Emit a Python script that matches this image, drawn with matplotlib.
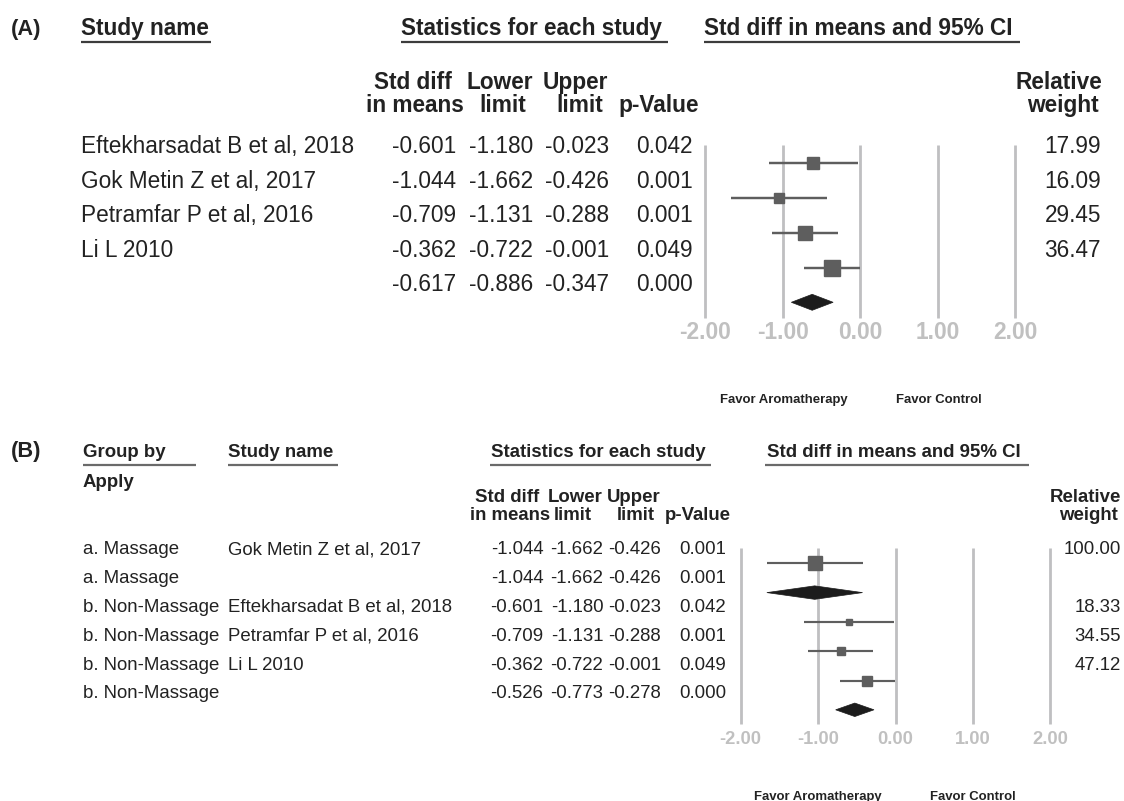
import matplotlib
matplotlib.use("Agg")
import matplotlib.pyplot as plt
from matplotlib.patches import Polygon
import numpy as np

plt.rcParams['font.family'] = ['Liberation Sans', 'DejaVu Sans']

# ---------------- data ----------------
# Panel A: individual studies + pooled estimate (last row)
studies_a = ["Eftekharsadat B et al, 2018", "Gok Metin Z et al, 2017",
             "Petramfar P et al, 2016", "Li L 2010", ""]
smd_a = [-0.601, -1.044, -0.709, -0.362, -0.617]
lower_a = [-1.180, -1.662, -1.131, -0.722, -0.886]
upper_a = [-0.023, -0.426, -0.288, -0.001, -0.347]
pval_a = [0.042, 0.001, 0.001, 0.049, 0.000]
weight_a = [17.99, 16.09, 29.45, 36.47, None]
pooled_a = [False, False, False, False, True]

# Panel B: subgroup analysis by application method
group_b = ["a. Massage", "a. Massage", "b. Non-Massage", "b. Non-Massage",
           "b. Non-Massage", "b. Non-Massage"]
studies_b = ["Gok Metin Z et al, 2017", "", "Eftekharsadat B et al, 2018",
             "Petramfar P et al, 2016", "Li L 2010", ""]
smd_b = [-1.044, -1.044, -0.601, -0.709, -0.362, -0.526]
lower_b = [-1.662, -1.662, -1.180, -1.131, -0.722, -0.773]
upper_b = [-0.426, -0.426, -0.023, -0.288, -0.001, -0.278]
pval_b = [0.001, 0.001, 0.042, 0.001, 0.049, 0.000]
weight_b = [100.00, None, 18.33, 34.55, 47.12, None]
pooled_b = [False, True, False, False, False, True]

axis_ticks = [-2.0, -1.0, 0.0, 1.0, 2.0]
favor_left, favor_right = "Favor Aromatherapy", "Favor Control"

# ---------------- styling ----------------
W, H, DPI = 1124, 801, 100
TXT = "#222222"
CI_COL = "#5e5e5e"
DIA_COL = "#1c1c1c"
GRID_COL = "#bfbfc1"
TICK_COL = "#c0c0c0"

fig = plt.figure(figsize=(W / DPI, H / DPI), dpi=DPI)
fig.patch.set_facecolor("white")

# overlay in pixel coordinates for the table text
tx = fig.add_axes([0, 0, 1, 1])
tx.set_xlim(0, W)
tx.set_ylim(H, 0)
tx.axis("off")


def pt(px):
    return px * 72.0 / DPI


def put(x, yc, s, px, ha="left", bold=False, color=TXT):
    # yc is the visual centre of digits/capitals; place on the baseline
    tx.text(x, yc + 0.36 * px, s, fontsize=pt(px), ha=ha, va="baseline",
            fontweight="bold" if bold else "normal", color=color)


def underline(x0, x1, y, color, lw=1.6):
    tx.plot([x0, x1], [y, y], color=color, lw=lw, solid_capstyle="butt")


def forest(ax_rect, est, lo, hi, weights, pooled, size_k, ci_lw, tick_px,
           grid_rows, tick_row, ylim):
    ax = fig.add_axes(ax_rect)
    ax.set_xlim(-2.25, 2.25)
    ax.set_ylim(*ylim)
    ax.axis("off")
    ax.vlines(axis_ticks, grid_rows[0], grid_rows[1], color=GRID_COL,
              lw=2.0, zorder=1)
    for i, (e, l, h, w, pl) in enumerate(zip(est, lo, hi, weights, pooled)):
        if pl:
            hh = 0.23
            ax.add_patch(Polygon([[l, i], [e, i - hh], [h, i], [e, i + hh]],
                                 closed=True, facecolor=DIA_COL,
                                 edgecolor=DIA_COL, lw=0.5, zorder=3))
        else:
            ax.plot([l, h], [i, i], color=CI_COL, lw=ci_lw, zorder=2,
                    solid_capstyle="butt")
            ax.plot([e], [i], marker="s", color=CI_COL, mec=CI_COL,
                    ms=pt(size_k * np.sqrt(w)), zorder=3)
    for t in axis_ticks:
        ax.text(t, tick_row, f"{t:.2f}", ha="center", va="center",
                fontsize=pt(tick_px), fontweight="bold", color=TICK_COL)
    return ax


# ================= Panel A =================
FA = 22.6
put(11, 27, "(A)", 21.8, bold=True)
put(81, 27, "Study name", FA, bold=True)
underline(81, 211, 42, "#3c3c3c")
put(401, 27, "Statistics for each study", FA, bold=True)
underline(401, 667.5, 42, "#3c3c3c")
put(704, 27, "Std diff in means and 95% CI", FA, bold=True)
underline(704, 1020, 42, "#3c3c3c")

put(413, 81, "Std diff", FA, ha="center", bold=True)
put(415, 103.5, "in means", FA, ha="center", bold=True)
put(499.5, 81, "Lower", FA, ha="center", bold=True)
put(502.5, 103.5, "limit", FA, ha="center", bold=True)
put(575.5, 81, "Upper", FA, ha="center", bold=True)
put(579.5, 103.5, "limit", FA, ha="center", bold=True)
put(659, 103.5, "p-Value", FA, ha="center", bold=True)
put(1059, 81, "Relative", FA, ha="center", bold=True)
put(1062.5, 103.5, "weight", FA, ha="center", bold=True)

for i in range(len(smd_a)):
    y = 145 + 34.5 * i
    put(81, y, studies_a[i], FA)
    put(456, y, f"{smd_a[i]:.3f}", FA, ha="right")
    put(533, y, f"{lower_a[i]:.3f}", FA, ha="right")
    put(609, y, f"{upper_a[i]:.3f}", FA, ha="right")
    put(693, y, f"{pval_a[i]:.3f}", FA, ha="right")
    if weight_a[i] is not None:
        put(1101, y, f"{weight_a[i]:.2f}", FA, ha="right")

# forest axes A: x=0 at 860 px, 77.5 px per unit; row 0 at 163.3 px, 34.75 px/row
pxu, x0 = 77.5, 860.0
row0, rstep = 163.3, 34.75
ylo, yhi = -0.8, 5.3
rectA = [(x0 - 2.25 * pxu) / W,
         1 - (row0 + yhi * rstep) / H,
         4.5 * pxu / W,
         (yhi - ylo) * rstep / H]
forest(rectA, smd_a, lower_a, upper_a, weight_a, pooled_a, 2.65, 1.75, 22.8,
       ((145 - row0) / rstep, (318 - row0) / rstep), (333 - row0) / rstep,
       (yhi, ylo))

put(783.5, 398, favor_left, 13.1, ha="center", bold=True)
put(938.8, 398, favor_right, 13.1, ha="center", bold=True)

# ================= Panel B =================
FB = 18.7
put(11, 449, "(B)", 21.8, bold=True)
put(83, 450.5, "Group by", FB, bold=True)
underline(83, 195.7, 465, "#6a6a6a")
put(228, 450.5, "Study name", FB, bold=True)
underline(228, 337.5, 465, "#6a6a6a")
put(491, 450.5, "Statistics for each study", FB, bold=True)
underline(490, 711, 465, "#6a6a6a")
put(767, 450.5, "Std diff in means and 95% CI", FB, bold=True)
underline(764.5, 1029, 465, "#6a6a6a")
put(83, 480, "Apply", FB, bold=True)

put(507.5, 495, "Std diff", FB, ha="center", bold=True)
put(509.7, 513.5, "in means", FB, ha="center", bold=True)
put(575, 495, "Lower", FB, ha="center", bold=True)
put(573, 513.5, "limit", FB, ha="center", bold=True)
put(633.8, 495, "Upper", FB, ha="center", bold=True)
put(636, 513.5, "limit", FB, ha="center", bold=True)
put(697.4, 513.5, "p-Value", FB, ha="center", bold=True)
put(1085.4, 495, "Relative", FB, ha="center", bold=True)
put(1088.4, 513.5, "weight", FB, ha="center", bold=True)

for i in range(len(smd_b)):
    y = 547.5 + 28.85 * i
    put(83, y, group_b[i], FB)
    put(228, y, studies_b[i], FB)
    put(543.3, y, f"{smd_b[i]:.3f}", FB, ha="right")
    put(603.3, y, f"{lower_b[i]:.3f}", FB, ha="right")
    put(661, y, f"{upper_b[i]:.3f}", FB, ha="right")
    put(726, y, f"{pval_b[i]:.3f}", FB, ha="right")
    if weight_b[i] is not None:
        put(1121, y, f"{weight_b[i]:.2f}", FB, ha="right")

# forest axes B: x=0 at 895.5 px, 77.4 px per unit; row 0 at 563.3 px, 29.3 px/row
pxu, x0 = 77.4, 895.5
row0, rstep = 563.3, 29.3
ylo, yhi = -0.8, 6.4
rectB = [(x0 - 2.25 * pxu) / W,
         1 - (row0 + yhi * rstep) / H,
         4.5 * pxu / W,
         (yhi - ylo) * rstep / H]
forest(rectB, smd_b, lower_b, upper_b, weight_b, pooled_b, 1.4, 1.55, 18.4,
       ((548.3 - row0) / rstep, (724 - row0) / rstep), (739 - row0) / rstep,
       (yhi, ylo))

put(818, 795, favor_left, 13.1, ha="center", bold=True)
put(973, 795, favor_right, 13.1, ha="center", bold=True)

fig.savefig("out.png", dpi=DPI, facecolor="white")
